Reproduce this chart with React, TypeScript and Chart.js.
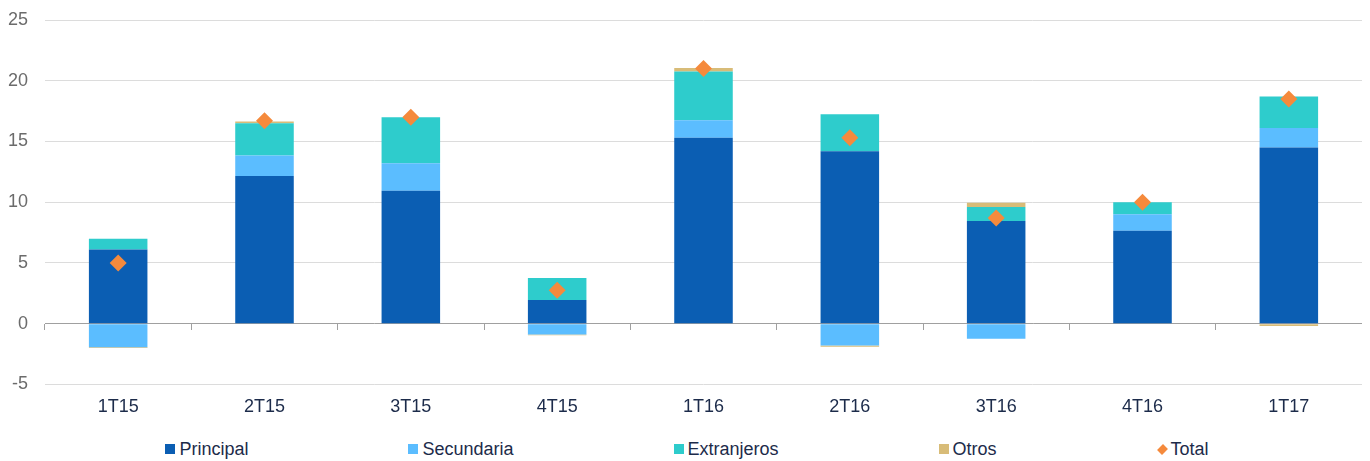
import React, { useEffect, useRef } from "react";
import { Chart, registerables } from "chart.js";

Chart.register(...registerables);

const categories = ["1T15", "2T15", "3T15", "4T15", "1T16", "2T16", "3T16", "4T16", "1T17"];
const principal = [6.1, 12.15, 10.95, 1.95, 15.3, 14.2, 8.45, 7.65, 14.5];
const secundaria = [-1.95, 1.7, 2.25, -0.9, 1.45, -1.8, -1.25, 1.35, 1.6];
const extranjeros = [0.9, 2.65, 3.8, 1.8, 4.0, 3.05, 1.15, 1.0, 2.6];
const otros = [-0.05, 0.15, 0.0, -0.05, 0.3, -0.1, 0.35, 0.0, -0.2];
const total = [5.0, 16.7, 17.0, 2.75, 21.0, 15.3, 8.7, 10.0, 18.5];

const FONT = "'Liberation Sans', Arial, sans-serif";
const NAVY = "#1c2b4a";

const legendItems = [
  { label: "Principal", color: "#0b5eb3", shape: "square" },
  { label: "Secundaria", color: "#5bbdff", shape: "square" },
  { label: "Extranjeros", color: "#2ecccc", shape: "square" },
  { label: "Otros", color: "#d8bc78", shape: "square" },
  { label: "Total", color: "#f58a3c", shape: "diamond" },
];

const zeroPad = (s: any) => {
  s.paddingLeft = 0;
  s.paddingRight = 0;
  s.paddingTop = 0;
  s.paddingBottom = 0;
};

export default function App() {
  const ref = useRef<HTMLCanvasElement | null>(null);

  useEffect(() => {
    if (!ref.current) return;
    const barCommon = {
      type: "bar" as const,
      stack: "s",
      order: 1,
      barPercentage: 1,
      categoryPercentage: 0.4,
      borderWidth: 0,
    };
    const chart = new Chart(ref.current, {
      type: "bar",
      data: {
        labels: categories,
        datasets: [
          { ...barCommon, label: "Principal", data: principal, backgroundColor: "#0b5eb3" },
          { ...barCommon, label: "Secundaria", data: secundaria, backgroundColor: "#5bbdff" },
          { ...barCommon, label: "Extranjeros", data: extranjeros, backgroundColor: "#2ecccc" },
          { ...barCommon, label: "Otros", data: otros, backgroundColor: "#d8bc78" },
          {
            type: "line" as const,
            label: "Total",
            data: total,
            stack: "total",
            order: 0,
            showLine: false,
            pointStyle: "rectRot",
            pointRadius: 8.5,
            pointBackgroundColor: "#f58a3c",
            pointBorderWidth: 0,
            borderColor: "#f58a3c",
            backgroundColor: "#f58a3c",
          } as any,
        ],
      },
      options: {
        animation: false,
        responsive: false,
        maintainAspectRatio: false,
        layout: { autoPadding: false, padding: { top: 12, left: 0, right: 0, bottom: 0 } },
        plugins: {
          legend: { display: false },
          tooltip: { enabled: false },
        },
        scales: {
          x: {
            stacked: true,
            grid: { display: false, drawTicks: false },
            border: { display: false },
            ticks: { color: NAVY, font: { family: FONT, size: 18 }, padding: 12 },
            afterFit: zeroPad,
          } as any,
          x2: {
            type: "category",
            position: { y: 0 } as any,
            offset: true,
            z: 1,
            grid: {
              display: true,
              drawOnChartArea: false,
              drawTicks: true,
              tickLength: 6,
              offset: true,
              color: "#a0a0a0",
            },
            border: { display: true, color: "#a0a0a0", width: 1 },
            ticks: { display: false },
            afterFit: zeroPad,
          } as any,
          y: {
            stacked: true,
            min: -5,
            max: 25,
            ticks: { stepSize: 5, color: "#6b6b6b", font: { family: FONT, size: 18 }, padding: 17 },
            grid: { color: "#dcdcdc", drawTicks: false },
            border: { display: false },
            afterFit: (s: any) => {
              s.width = 37;
              zeroPad(s);
            },
          } as any,
        },
      },
    });
    return () => chart.destroy();
  }, []);

  return (
    <div style={{ position: "relative", width: 1354, height: 453, fontFamily: FONT }}>
      <canvas ref={ref} width={1354} height={422} style={{ display: "block", width: 1354, height: 422 }} />
      <div
        style={{
          position: "absolute",
          top: 430,
          left: 2,
          width: 1354,
          display: "flex",
          justifyContent: "center",
          gap: 160,
          fontSize: 18,
          lineHeight: "22px",
          color: NAVY,
        }}
      >
        {legendItems.map((it) => (
          <div key={it.label} style={{ display: "flex", alignItems: "center" }}>
            {it.shape === "square" ? (
              <span style={{ display: "inline-block", width: 10, height: 10, background: it.color, marginRight: 4 }} />
            ) : (
              <span
                style={{
                  display: "inline-block",
                  width: 7,
                  height: 7,
                  background: it.color,
                  transform: "rotate(45deg) scaleY(1.2)",
                  marginLeft: 2,
                  marginRight: 5,
                }}
              />
            )}
            <span>{it.label}</span>
          </div>
        ))}
      </div>
    </div>
  );
}
